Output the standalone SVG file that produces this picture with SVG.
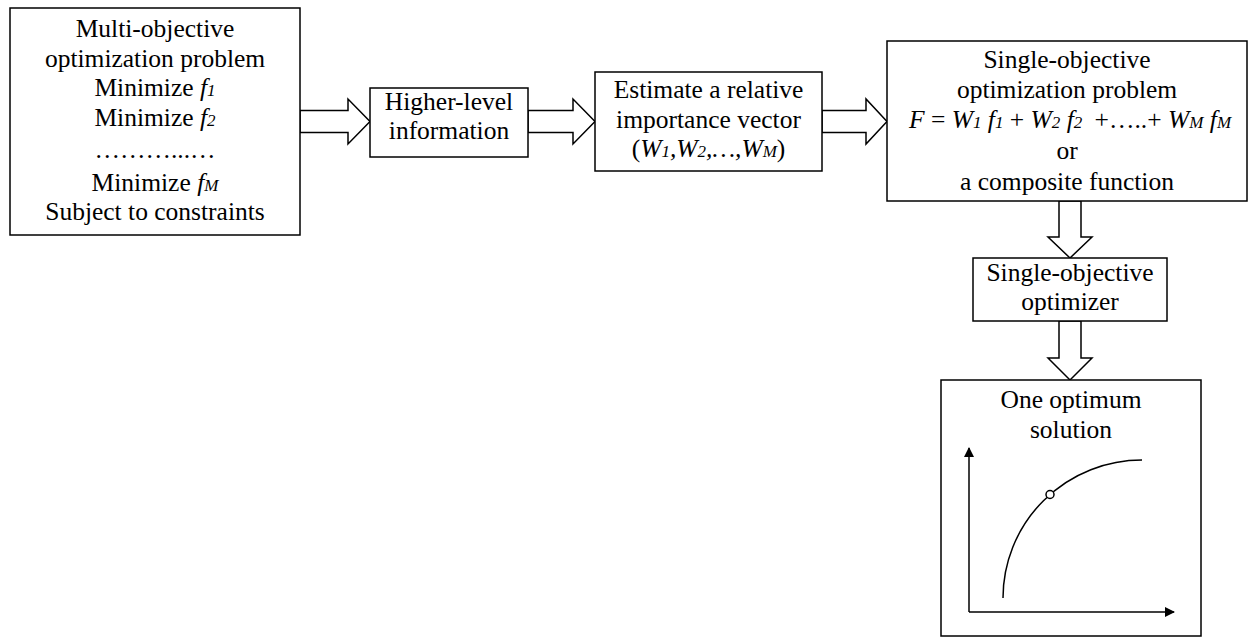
<svg xmlns="http://www.w3.org/2000/svg" width="1250" height="637" viewBox="0 0 1250 637">
  <style>
    .box { fill: #ffffff; stroke: #000000; stroke-width: 1.5; }
    .blk { fill: #ffffff; stroke: #000000; stroke-width: 1.5; stroke-linejoin: miter; }
    .t { font-family: "Liberation Serif", "Times New Roman", serif; font-size: 25.5px; fill: #000000; text-anchor: middle; }
    .i { font-style: italic; }
    .s { font-size: 17px; font-style: italic; }
    .ax { fill: none; stroke: #000000; stroke-width: 1.5; }
  </style>
  <defs>
    <marker id="axhead" viewBox="0 0 10 10" refX="9" refY="5" markerWidth="10" markerHeight="10" markerUnits="userSpaceOnUse" orient="auto">
      <path d="M0,0 L10,5 L0,10 Z" fill="#000000"/>
    </marker>
  </defs>

  <!-- block arrows between stages -->
  <g id="connectors">
    <polygon class="blk" points="300,110.5 348,110.5 348,99 370,121.5 348,144 348,132.5 300,132.5"/>
    <polygon class="blk" points="528,110.5 573,110.5 573,99 595,121.5 573,144 573,132.5 528,132.5"/>
    <polygon class="blk" points="822,110.5 866,110.5 866,99 887,121.5 866,144 866,132.5 822,132.5"/>
    <polygon class="blk" points="1059,201 1059,237 1048,237 1070,258 1092,237 1081,237 1081,201"/>
    <polygon class="blk" points="1059,321 1059,358 1048,358 1070,380 1092,358 1081,358 1081,321"/>
  </g>

  <g id="multi-objective-problem">
    <rect class="box" x="10" y="8" width="290" height="227"/>
    <text class="t" x="155" y="37">Multi-objective</text>
    <text class="t" x="155" y="66.5">optimization problem</text>
    <text class="t" x="155" y="96">Minimize <tspan class="i">f</tspan><tspan class="s">1</tspan></text>
    <text class="t" x="155" y="125.5">Minimize <tspan class="i">f</tspan><tspan class="s">2</tspan></text>
    <text class="t" x="155" y="158">………...…</text>
    <text class="t" x="155" y="190.5">Minimize <tspan class="i">f</tspan><tspan class="s">M</tspan></text>
    <text class="t" x="155" y="220">Subject to constraints</text>
  </g>

  <g id="higher-level-information">
    <rect class="box" x="370" y="88" width="158" height="69"/>
    <text class="t" x="449" y="110">Higher-level</text>
    <text class="t" x="449" y="139">information</text>
  </g>

  <g id="importance-vector">
    <rect class="box" x="595" y="72" width="227" height="99"/>
    <text class="t" x="708.5" y="98">Estimate a relative</text>
    <text class="t" x="708.5" y="127.5">importance vector</text>
    <text class="t" x="708.5" y="157">(<tspan class="i">W</tspan><tspan class="s">1</tspan><tspan class="i">,W</tspan><tspan class="s">2</tspan><tspan class="i">,…,W</tspan><tspan class="s">M</tspan>)</text>
  </g>

  <g id="single-objective-problem">
    <rect class="box" x="887" y="41" width="360" height="160"/>
    <text class="t" x="1067" y="67.5">Single-objective</text>
    <text class="t" x="1067" y="97.5">optimization problem</text>
    <text class="t" x="1070" y="128"><tspan class="i">F</tspan> = <tspan class="i">W</tspan><tspan class="s">1</tspan> <tspan class="i">f</tspan><tspan class="s">1</tspan> + <tspan class="i">W</tspan><tspan class="s">2</tspan> <tspan class="i">f</tspan><tspan class="s">2</tspan> <tspan dx="6">+…..+</tspan> <tspan class="i">W</tspan><tspan class="s">M</tspan> <tspan class="i">f</tspan><tspan class="s">M</tspan></text>
    <text class="t" x="1067" y="159">or</text>
    <text class="t" x="1067" y="189.5">a composite function</text>
  </g>

  <g id="single-objective-optimizer">
    <rect class="box" x="973" y="258" width="194" height="63"/>
    <text class="t" x="1070" y="281">Single-objective</text>
    <text class="t" x="1070" y="310">optimizer</text>
  </g>

  <g id="optimum-solution">
    <rect class="box" x="941" y="380" width="260" height="256"/>
    <text class="t" x="1071" y="408">One optimum</text>
    <text class="t" x="1071" y="438">solution</text>
    <!-- axes -->
    <path class="ax" d="M969,612 L969,448" marker-end="url(#axhead)"/>
    <path class="ax" d="M969,612 L1174,612" marker-end="url(#axhead)"/>
    <!-- trade-off curve with the chosen point -->
    <path class="ax" d="M1003,598 A139,138 0 0 1 1142,460"/>
    <circle cx="1050" cy="494.5" r="4" fill="#ffffff" stroke="#000000" stroke-width="1.5"/>
  </g>
</svg>
